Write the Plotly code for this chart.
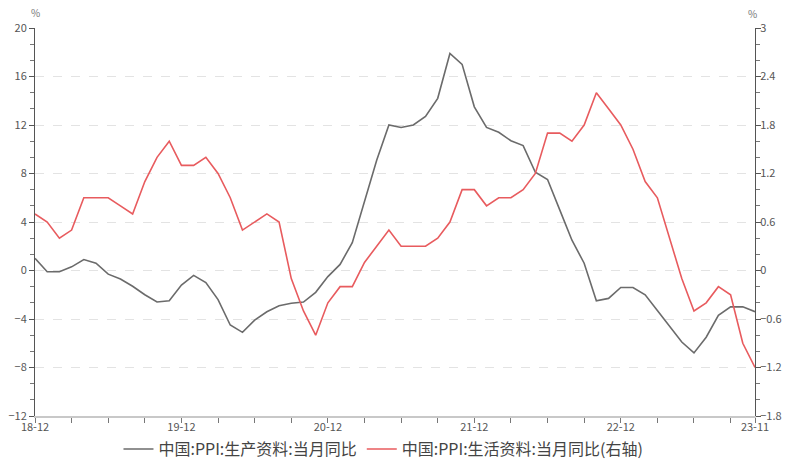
import plotly.graph_objects as go
import pandas as pd

months = pd.date_range("2018-12-01", "2023-11-01", freq="MS").strftime("%y-%m").tolist()

# 中国:PPI:生产资料:当月同比 (%)
producer = [
    1.0,
    -0.1, -0.1, 0.3, 0.9, 0.6, -0.3, -0.7, -1.3, -2.0, -2.6, -2.5, -1.2,
    -0.4, -1.0, -2.4, -4.5, -5.1, -4.1, -3.4, -2.9, -2.7, -2.6, -1.8, -0.5,
    0.5, 2.3, 5.7, 9.1, 12.0, 11.8, 12.0, 12.7, 14.2, 17.9, 17.0, 13.5,
    11.8, 11.4, 10.7, 10.3, 8.1, 7.5, 5.0, 2.5, 0.6, -2.5, -2.3, -1.4,
    -1.4, -2.0, -3.3, -4.6, -5.9, -6.8, -5.5, -3.7, -3.0, -3.0, -3.4,
]

# 中国:PPI:生活资料:当月同比 (%), right axis
consumer = [
    0.7,
    0.6, 0.4, 0.5, 0.9, 0.9, 0.9, 0.8, 0.7, 1.1, 1.4, 1.6, 1.3,
    1.3, 1.4, 1.2, 0.9, 0.5, 0.6, 0.7, 0.6, -0.1, -0.5, -0.8, -0.4,
    -0.2, -0.2, 0.1, 0.3, 0.5, 0.3, 0.3, 0.3, 0.4, 0.6, 1.0, 1.0,
    0.8, 0.9, 0.9, 1.0, 1.2, 1.7, 1.7, 1.6, 1.8, 2.2, 2.0, 1.8,
    1.5, 1.1, 0.9, 0.4, -0.1, -0.5, -0.4, -0.2, -0.3, -0.9, -1.2,
]

x_labels = ["18-12", "19-12", "20-12", "21-12", "22-12", "23-11"]

x = list(range(len(months)))
tick_pos = [months.index(m) for m in x_labels]

font = "Noto Sans CJK SC, Noto Sans, sans-serif"

fig = go.Figure()
fig.add_scatter(
    x=x, y=producer, mode="lines", name="中国:PPI:生产资料:当月同比",
    line=dict(color="#6b6b6b", width=1.6),
)
fig.add_scatter(
    x=x, y=consumer, mode="lines", name="中国:PPI:生活资料:当月同比(右轴)",
    line=dict(color="#e85b5e", width=1.6), yaxis="y2",
)

fig.update_layout(
    width=786,
    height=463,
    paper_bgcolor="white",
    plot_bgcolor="white",
    font=dict(family=font, size=11, color="#555"),
    margin=dict(l=35, r=31, t=28, b=47, autoexpand=False),
    showlegend=True,
    legend=dict(
        orientation="h", x=0.484, xanchor="center",
        y=0.03, yref="container", yanchor="middle",
        font=dict(size=16, color="#444"), itemwidth=30,
    ),
    xaxis=dict(
        range=[0, len(months) - 1],
        tickmode="array", tickvals=tick_pos, ticktext=x_labels,
        ticks="outside", ticklen=5, tickcolor="#777", ticklabelstandoff=-5,
        minor=dict(ticks="outside", dtick=3, tick0=0, ticklen=5, tickcolor="#777"),
        showline=True, linecolor="#c8c8c8", linewidth=1.5,
        showgrid=False, zeroline=False, automargin=False,
    ),
    yaxis=dict(
        range=[-12, 20], dtick=4, tick0=-12,
        ticks="outside", ticklen=5, tickcolor="#555",
        minor=dict(ticks="outside", dtick=4 / 3, tick0=-12, ticklen=4, tickcolor="#777"),
        showline=True, linecolor="#555", linewidth=1,
        showgrid=True, gridcolor="#e3e3e3", griddash="dash", gridwidth=1,
        zeroline=False, automargin=False,
    ),
    yaxis2=dict(
        overlaying="y", side="right",
        range=[-1.8, 3], dtick=0.6, tick0=-1.8,
        ticks="outside", ticklen=5, tickcolor="#555", ticklabelstandoff=-3,
        minor=dict(ticks="outside", dtick=0.2, tick0=-1.8, ticklen=4, tickcolor="#777"),
        showline=True, linecolor="#555", linewidth=1,
        showgrid=False, zeroline=False, automargin=False,
    ),
    annotations=[
        dict(text="%", x=0, y=1.041, xref="paper", yref="paper",
             xanchor="center", yanchor="middle", showarrow=False,
             font=dict(size=10, color="#777")),
        dict(text="%", x=1, y=1.038, xref="paper", yref="paper",
             xanchor="center", yanchor="middle", showarrow=False, xshift=-3,
             font=dict(size=10, color="#777")),
    ],
)

# the page's default body margin would push the chart 8px down and right
fig.write_html(
    "out.html",
    config={"displayModeBar": False},
    post_script="document.body.style.margin='0';",
)
